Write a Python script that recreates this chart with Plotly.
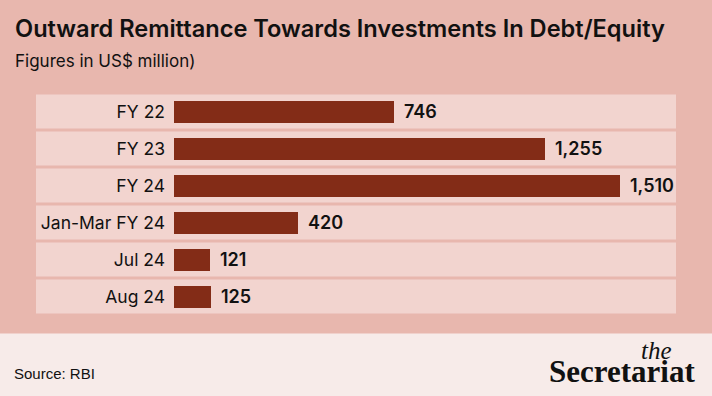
import plotly.graph_objects as go

categories = ["FY 22", "FY 23", "FY 24", "Jan-Mar FY 24", "Jul 24", "Aug 24"]
values = [746, 1255, 1510, 420, 121, 125]

title_text = "Outward Remittance Towards Investments In Debt/Equity"
subtitle_text = "Figures in US$ million)"
source_text = "Source: RBI"

W, H = 712, 396
BG = "#e8b7ae"
ROW = "#f2d4cf"
BAR = "#832c17"
FOOT = "#f7ebe9"
FONT = "Inter, Roboto, sans-serif"

x0_px = 174
px_per_unit = 0.2953
row_pitch = 37
row0_center = 111.5

x_range = [0, (W - x0_px) / px_per_unit]
y_top = -row0_center / row_pitch
y_bot = (H - row0_center) / row_pitch

fig = go.Figure()
fig.add_trace(go.Bar(
    x=values, y=list(range(len(categories))), orientation="h",
    marker=dict(color=BAR, line=dict(width=0)),
    width=22 / row_pitch, hoverinfo="skip",
))

shapes = [
    dict(type="rect", xref="paper", yref="paper", x0=0, x1=1, y0=0, y1=1,
         fillcolor=BG, line=dict(width=0), layer="below"),
    dict(type="rect", xref="paper", yref="paper", x0=0, x1=1, y0=0, y1=1 - 333.5 / H,
         fillcolor=FOOT, line=dict(width=0), layer="below"),
]
half = 17 / row_pitch
for i in range(len(categories)):
    shapes.append(dict(type="rect", xref="paper", yref="y", x0=36 / W, x1=676 / W,
                       y0=i - half, y1=i + half, fillcolor=ROW,
                       line=dict(width=0), layer="below"))

annotations = []
for i, v in enumerate(values):
    annotations.append(dict(x=v, y=i, xref="x", yref="y", text=f"{v:,}",
                            xanchor="left", yanchor="middle", xshift=8, showarrow=False,
                            font=dict(family=FONT, size=18, color="#111", weight=600)))

def ptext(text, xpx, ypx, size, weight=400, family=FONT, xanchor="left", style="normal"):
    annotations.append(dict(x=xpx / W, y=1 - ypx / H, xref="paper", yref="paper",
                            text=text, xanchor=xanchor, yanchor="middle", showarrow=False,
                            font=dict(family=family, size=size, color="#111",
                                      weight=weight, style=style)))

ptext(title_text, 13, 29, 23.6, weight=600)
ptext(subtitle_text, 13, 61, 17)
ptext(source_text, 12, 373, 15, family="Liberation Sans Narrow, Arial Narrow, Liberation Sans, sans-serif")
ptext("the", 674, 350, 25, family="Liberation Serif, serif", xanchor="right", style="italic")
ptext("Secretariat", 697, 371, 31, weight=700, family="Liberation Serif, serif", xanchor="right")

fig.update_layout(
    width=W, height=H, margin=dict(l=0, r=0, t=0, b=0),
    paper_bgcolor=BG, plot_bgcolor="rgba(0,0,0,0)",
    showlegend=False, bargap=0,
    xaxis=dict(domain=[x0_px / W, 1], range=x_range, visible=False, fixedrange=True),
    yaxis=dict(range=[y_bot, y_top], tickmode="array", tickvals=list(range(len(categories))),
               ticktext=categories, showgrid=False, zeroline=False, showline=False,
               ticks="", ticklabelstandoff=8,
               tickfont=dict(family=FONT, size=17.5, color="#111"), fixedrange=True),
    shapes=shapes, annotations=annotations,
)

fig.write_html("out.html", config={"displayModeBar": False})

with open("out.html", encoding="utf-8") as f:
    html = f.read()
html = html.replace("<head>", "<head><style>html,body{margin:0;padding:0;overflow:hidden;}</style>", 1)
with open("out.html", "w", encoding="utf-8") as f:
    f.write(html)
